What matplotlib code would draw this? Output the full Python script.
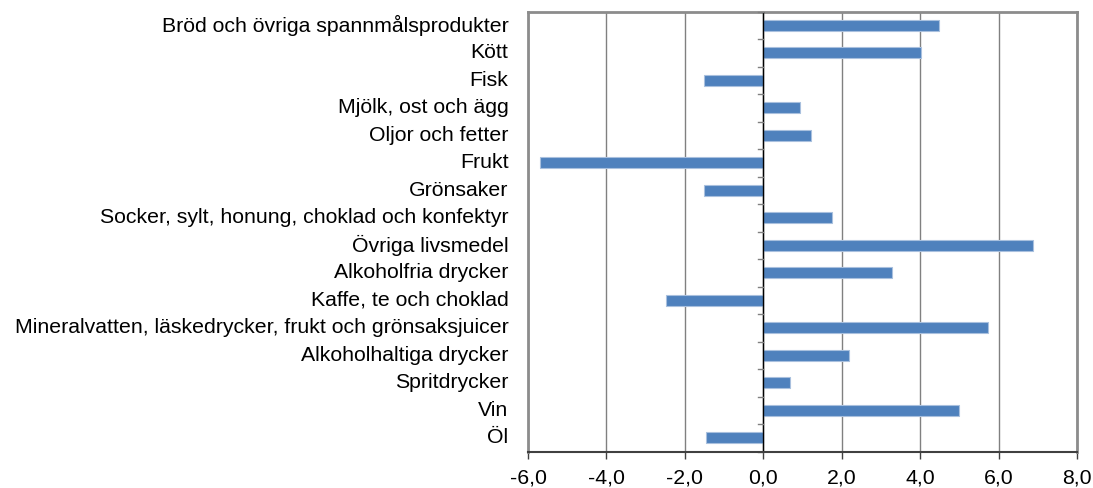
import matplotlib
matplotlib.use("Agg")
import matplotlib.pyplot as plt
import numpy as np

categories = [
    "Bröd och övriga spannmålsprodukter",
    "Kött",
    "Fisk",
    "Mjölk, ost och ägg",
    "Oljor och fetter",
    "Frukt",
    "Grönsaker",
    "Socker, sylt, honung, choklad och konfektyr",
    "Övriga livsmedel",
    "Alkoholfria drycker",
    "Kaffe, te och choklad",
    "Mineralvatten, läskedrycker, frukt och grönsaksjuicer",
    "Alkoholhaltiga drycker",
    "Spritdrycker",
    "Vin",
    "Öl",
]
values = [4.49, 4.02, -1.52, 0.94, 1.21, -5.70, -1.50, 1.75, 6.88, 3.29,
          -2.48, 5.74, 2.19, 0.69, 4.99, -1.47]
xticks = [-6, -4, -2, 0, 2, 4, 6, 8]
xticklabels = ["-6,0", "-4,0", "-2,0", "0,0", "2,0", "4,0", "6,0", "8,0"]

plt.rcParams['font.family'] = ['Liberation Sans', 'DejaVu Sans']

fig = plt.figure(figsize=(10.93, 4.88), dpi=100)
ax = fig.add_axes([528/1093, 1 - 451.5/488, (1077-528)/1093, (451.5-11.7)/488])

n = len(categories)
y = np.arange(n)
ax.barh(y, values, height=0.4, color="#4F81BD", edgecolor="#A9C0DE", linewidth=0.8, zorder=3)

ax.set_ylim(n - 0.5, -0.5)
ax.set_xlim(-6, 8)
ax.set_xticks(xticks)
ax.set_xticklabels(xticklabels, fontsize=15.3)
ax.xaxis.grid(True, color="#808080", linewidth=1.0, zorder=0)
ax.set_axisbelow(True)

ax.set_yticks([])
for yi, lab in zip(y, categories):
    ax.text(-6 - 0.5, yi, lab, ha="right", va="center", fontsize=15.3, transform=ax.transData)

ax.axvline(0, color="black", linewidth=1.0, zorder=4)
for b in np.arange(n + 1) - 0.5:
    ax.plot([-0.14, 0], [b, b], color="#808080", linewidth=1.0, zorder=4, clip_on=False)

for s in ax.spines.values():
    s.set_color("#8C8C8C")
    s.set_linewidth(2.0)
ax.spines["bottom"].set_color("#404040")
ax.spines["bottom"].set_linewidth(1.5)
ax.spines["bottom"].set_zorder(5)
ax.tick_params(axis="x", length=5, width=1, color="#404040", pad=7.5)

fig.savefig("out.png", dpi=100)
